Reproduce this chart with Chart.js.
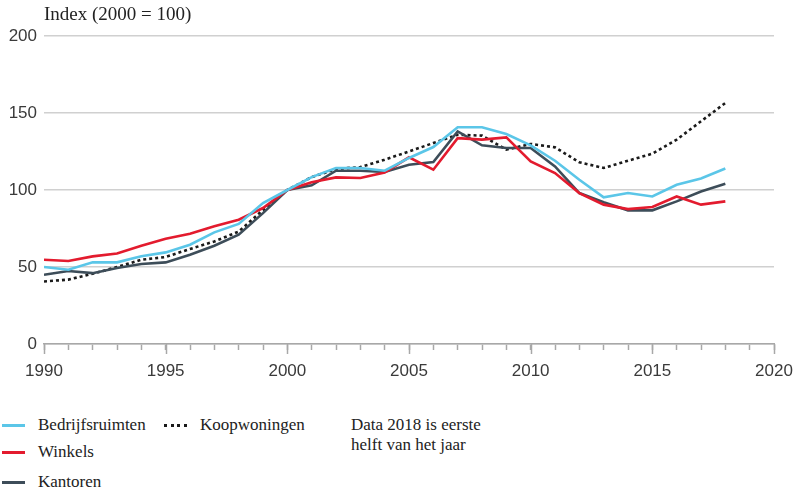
<!DOCTYPE html>
<html>
<head>
<meta charset="utf-8">
<script src="https://cdn.jsdelivr.net/npm/chart.js@4.4.1/dist/chart.umd.min.js"></script>
<style>
  body { margin: 0; background: #fff; }
  #wrap { position: relative; width: 796px; height: 491px; font-family: "Liberation Serif", serif; color: #222; }
  #chartBox { position: absolute; left: 0; top: 0; width: 796px; height: 384px; }
  #yTitle { position: absolute; left: 44px; top: 3px; font-size: 19px; }
  .leg { position: absolute; font-size: 17px; line-height: 20px; white-space: nowrap; }
  .sw { position: absolute; width: 23px; height: 0; }
  #note { position: absolute; left: 351px; top: 415px; font-size: 17px; line-height: 20px; }
</style>
</head>
<body>
<div id="wrap">
  <div id="chartBox"><canvas id="c"></canvas></div>
  <div id="yTitle">Index (2000 = 100)</div>
  <div id="legend"></div>
  <div id="note">Data 2018 is eerste<br>helft van het jaar</div>
</div>
<script>
// 1) Data (2000 = 100)
const years = [1990, 1991, 1992, 1993, 1994, 1995, 1996, 1997, 1998, 1999,
               2000, 2001, 2002, 2003, 2004, 2005, 2006, 2007, 2008, 2009,
               2010, 2011, 2012, 2013, 2014, 2015, 2016, 2017, 2018];

const bedrijfsruimten = [50, 48.2, 53, 53, 57, 59.5, 64.5, 72.5, 78, 91.5,
                         100, 108.4, 114.3, 114.3, 112.5, 120.8, 127.9, 140.7, 140.7, 136.3,
                         129, 119, 106.7, 95.2, 98, 95.8, 103.4, 107.5, 114];

const winkels = [54.7, 53.9, 56.9, 58.8, 63.8, 68.4, 71.6, 76.4, 80.7, 88.3,
                 100, 105, 108.2, 107.8, 111.4, 121.2, 113.2, 133.7, 132.7, 134.2,
                 118.6, 111, 98, 90.5, 87.6, 89, 95.8, 90.5, 92.6];

const kantoren = [45, 47.4, 46, 49.3, 52, 53, 58, 63.8, 71, 85,
                  100, 103, 112.5, 112.5, 111.7, 116.4, 118.2, 138, 129, 127.3,
                  127.3, 115.3, 98, 92, 86.8, 86.8, 92.6, 99, 104];

const koopwoningen = [40.6, 41.8, 45.6, 50, 54.7, 56.5, 61.7, 66.6, 73, 87,
                      100, 108.4, 113.6, 114.9, 119.7, 125, 130.5, 135.9, 135.3, 126.2,
                      129.9, 127.7, 118, 114.3, 119, 123.6, 132.7, 144.6, 156.5];

const yTicks = [0, 50, 100, 150, 200];
const xRange = [1990, 2020];

const toXY = vals => vals.map((v, i) => ({ x: years[i], y: v }));

// 2) Series styles
const series = [
  { label: 'Bedrijfsruimten', data: bedrijfsruimten, color: '#5bc6e8', dash: [] },
  { label: 'Winkels',         data: winkels,         color: '#e31b2e', dash: [] },
  { label: 'Kantoren',        data: kantoren,        color: '#3d4d59', dash: [] },
  { label: 'Koopwoningen',    data: koopwoningen,    color: '#1a1a1a', dash: [3, 3] }
];

// longer tick marks every 5 years
const majorTicks = {
  id: 'majorTicks',
  afterDraw(chart) {
    const xs = chart.scales.x, ctx = chart.ctx;
    const y0 = chart.chartArea.bottom;
    ctx.save();
    ctx.strokeStyle = '#a8a8a8';
    ctx.lineWidth = 1.5;
    for (let v = xRange[0]; v <= xRange[1]; v += 5) {
      const px = Math.round(xs.getPixelForValue(v)) + 0.5;
      ctx.beginPath();
      ctx.moveTo(px, y0);
      ctx.lineTo(px, y0 + 10);
      ctx.stroke();
    }
    ctx.restore();
  }
};

new Chart(document.getElementById('c'), {
  type: 'line',
  data: {
    datasets: series.map(s => ({
      label: s.label,
      data: toXY(s.data),
      borderColor: s.color,
      borderWidth: 2.6,
      borderDash: s.dash,
      borderCapStyle: 'butt',
      pointRadius: 0,
      tension: 0,
      fill: false
    }))
  },
  options: {
    responsive: true,
    maintainAspectRatio: false,
    animation: false,
    layout: { padding: { top: 36, right: 22, left: 0, bottom: 0 } },
    plugins: { legend: { display: false }, tooltip: { enabled: false } },
    scales: {
      x: {
        type: 'linear',
        min: xRange[0], max: xRange[1],
        afterFit: s => { s.height = 40; s.paddingLeft = 0; s.paddingRight = 0; },
        ticks: {
          stepSize: 1,
          autoSkip: false,
          maxRotation: 0,
          padding: 11,
          color: '#3a3a3a',
          font: { family: 'Liberation Sans', size: 17 },
          callback: v => (v % 5 === 0 ? String(v) : '')
        },
        grid: { drawOnChartArea: false, tickLength: 6, tickColor: '#a8a8a8', tickWidth: 1.5 },
        border: { color: '#a8a8a8', width: 1.5 }
      },
      y: {
        min: yTicks[0], max: yTicks[yTicks.length - 1],
        afterFit: s => { s.width = 44; s.paddingTop = 0; s.paddingBottom = 0; },
        afterBuildTicks: s => { s.ticks = yTicks.map(v => ({ value: v })); },
        ticks: {
          padding: 7,
          color: '#3a3a3a',
          font: { family: 'Liberation Sans', size: 17 }
        },
        grid: { color: '#d0d0d0', lineWidth: 1.5, drawTicks: false },
        border: { display: false }
      }
    }
  },
  plugins: [majorTicks]
});

// 3) HTML legend laid out like the original
const legendPos = [
  { left: 2, top: 415 },
  { left: 2, top: 442 },
  { left: 2, top: 472 },
  { left: 164, top: 415 }
];
const legend = document.getElementById('legend');
series.forEach((s, i) => {
  const p = legendPos[i];
  const sw = document.createElement('div');
  sw.className = 'sw';
  sw.style.left = p.left + 'px';
  sw.style.top = (p.top + 9) + 'px';
  sw.style.borderTop = s.dash.length ? '3px dotted ' + s.color : '3px solid ' + s.color;
  legend.appendChild(sw);
  const t = document.createElement('div');
  t.className = 'leg';
  t.style.left = (p.left + 36) + 'px';
  t.style.top = p.top + 'px';
  t.textContent = s.label;
  legend.appendChild(t);
});
</script>
</body>
</html>
